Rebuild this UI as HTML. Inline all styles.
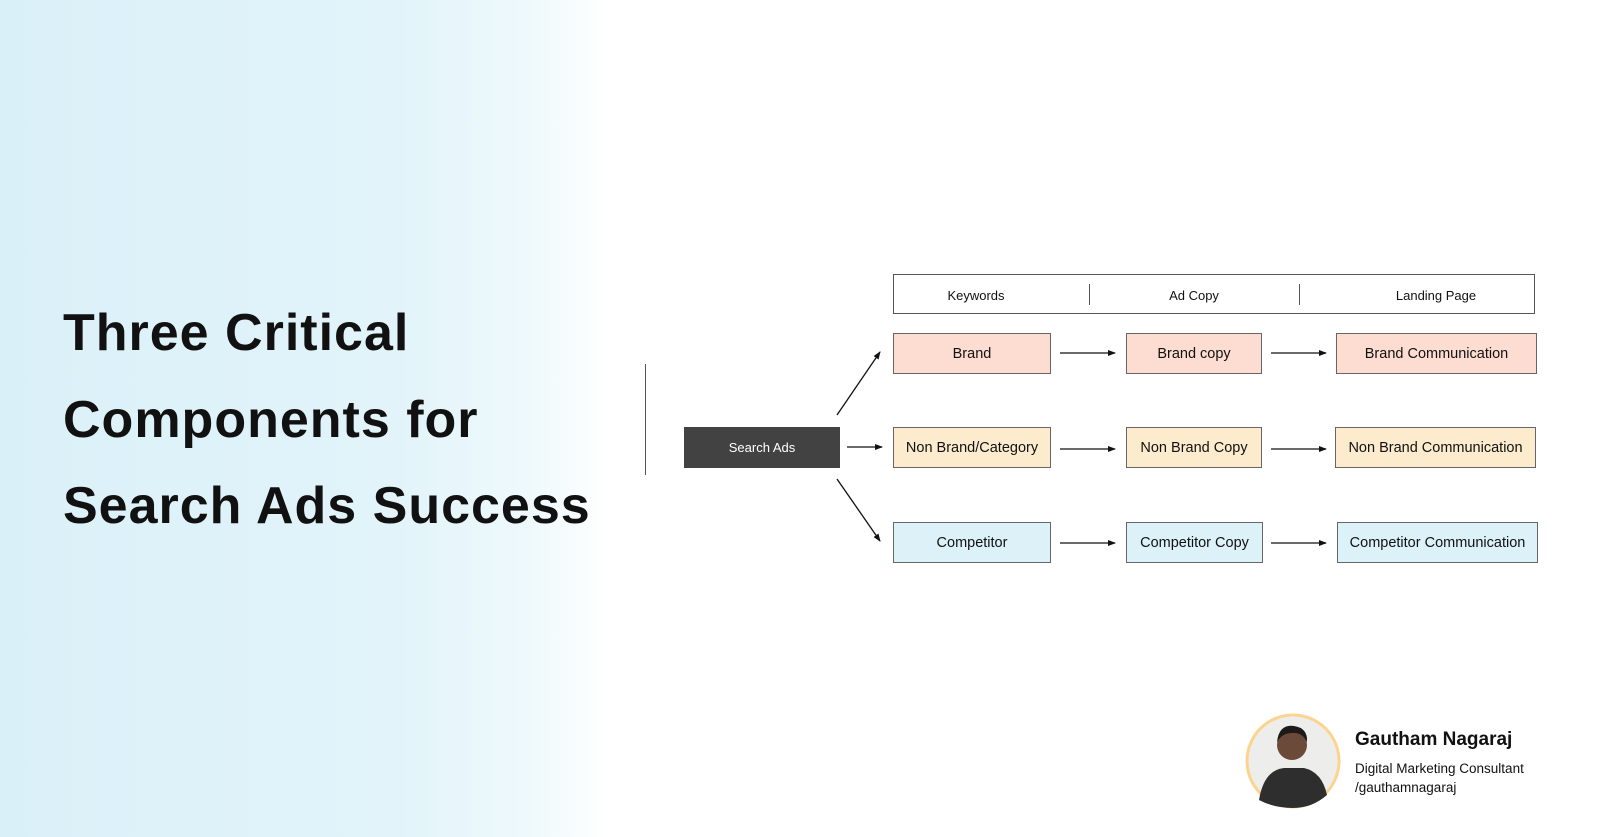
<!DOCTYPE html>
<html><head><style>
body{margin:0;width:1600px;height:837px;overflow:hidden;font-family:"Liberation Sans",sans-serif;background:linear-gradient(90deg,#daf0f8 0%,#e2f4fa 25%,#eef9fc 33%,#fff 38%,#fff 100%);position:relative}
.t{position:absolute;left:63px;font-weight:bold;font-size:52px;color:#111;line-height:60px;letter-spacing:1px}
.b{position:absolute;box-sizing:border-box;border:1.5px solid #666;font-size:14.5px;color:#111;display:flex;align-items:center;justify-content:center}
.h{position:absolute;font-size:13px;color:#111}
</style></head><body>
<div class="t" style="top:303px">Three Critical</div>
<div class="t" style="top:390px">Components for</div>
<div class="t" style="top:476px">Search Ads Success</div>
<div style="position:absolute;left:645px;top:364px;width:1px;height:111px;background:#555"></div>
<div class="b" style="left:684px;top:427px;width:156px;height:41px;background:#424242;color:#fff;border-color:#424242;font-size:13px">Search Ads</div>
<div class="b" style="left:893px;top:274px;width:642px;height:40px;background:#fff;border-color:#555"></div>
<div style="position:absolute;left:1089px;top:284px;width:1px;height:21px;background:#555"></div>
<div style="position:absolute;left:1299px;top:284px;width:1px;height:21px;background:#555"></div>
<div class="h" style="left:926px;width:100px;text-align:center;top:288px">Keywords</div>
<div class="h" style="left:1144px;width:100px;text-align:center;top:288px">Ad Copy</div>
<div class="h" style="left:1366px;width:140px;text-align:center;top:288px">Landing Page</div>
<div class="b" style="left:893px;top:333px;width:158px;height:41px;background:#fddcd2">Brand</div>
<div class="b" style="left:1126px;top:333px;width:136px;height:41px;background:#fddcd2">Brand copy</div>
<div class="b" style="left:1336px;top:333px;width:201px;height:41px;background:#fddcd2">Brand Communication</div>
<div class="b" style="left:893px;top:427px;width:158px;height:41px;background:#fdebcd">Non Brand/Category</div>
<div class="b" style="left:1126px;top:427px;width:136px;height:41px;background:#fdebcd">Non Brand Copy</div>
<div class="b" style="left:1335px;top:427px;width:201px;height:41px;background:#fdebcd">Non Brand Communication</div>
<div class="b" style="left:893px;top:522px;width:158px;height:41px;background:#dcf2f8">Competitor</div>
<div class="b" style="left:1126px;top:522px;width:137px;height:41px;background:#dcf2f8">Competitor Copy</div>
<div class="b" style="left:1337px;top:522px;width:201px;height:41px;background:#dcf2f8">Competitor Communication</div>
<svg style="position:absolute;left:0;top:0" width="1600" height="837">
<defs><marker id="a" markerWidth="8" markerHeight="8" refX="7" refY="4" orient="auto" markerUnits="userSpaceOnUse"><path d="M0,1 L8,4 L0,7 z" fill="#111"/></marker></defs>
<g stroke="#111" stroke-width="1.3" marker-end="url(#a)">
<line x1="837" y1="415" x2="880" y2="352"/>
<line x1="847" y1="447" x2="882" y2="447"/>
<line x1="837" y1="479" x2="880" y2="541"/>
<line x1="1060" y1="353" x2="1115" y2="353"/>
<line x1="1271" y1="353" x2="1326" y2="353"/>
<line x1="1060" y1="449" x2="1115" y2="449"/>
<line x1="1271" y1="449" x2="1326" y2="449"/>
<line x1="1060" y1="543" x2="1115" y2="543"/>
<line x1="1271" y1="543" x2="1326" y2="543"/>
</g>
<circle cx="1293" cy="761" r="46" fill="#ededeb" stroke="#fbd48f" stroke-width="3"/>
<path d="M1259,800 Q1264,770 1284,768 L1304,768 Q1322,772 1327,795 Q1312,808 1293,808 Q1274,808 1259,800z" fill="#2e2e2e"/>
<circle cx="1292" cy="745" r="15" fill="#6b4a3a"/>
<path d="M1277,742 Q1279,724 1294,726 Q1308,728 1307,742 Q1302,732 1292,733 Q1282,733 1277,742z" fill="#1e1a18"/>
</svg>
<div style="position:absolute;left:1355px;top:729px;font-size:19px;font-weight:bold;color:#111">Gautham Nagaraj</div>
<div style="position:absolute;left:1355px;top:759px;font-size:13.5px;color:#111;line-height:19px">Digital Marketing Consultant<br>/gauthamnagaraj</div>
</body></html>
